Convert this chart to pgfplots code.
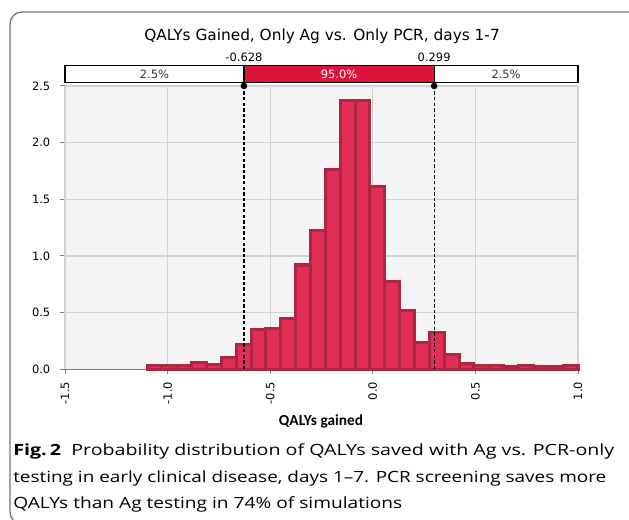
\documentclass[border=0pt]{standalone}
\usepackage{graphicx}
\usepackage{pgfplots}
\pgfplotsset{compat=1.18}
\usepackage{fontspec}
\setmainfont{DejaVu Sans}
\newfontfamily\capfont{Open Sans}
\newfontfamily\lblfont{Carlito}
\definecolor{barfill}{RGB}{225,46,86}
\definecolor{baredge}{RGB}{178,36,68}
\definecolor{crim}{RGB}{220,20,60}
\definecolor{bg}{RGB}{244,244,244}
\definecolor{gridc}{RGB}{210,210,210}
\definecolor{framec}{RGB}{120,120,120}
\begin{document}
\begin{tikzpicture}[x=0.75pt,y=0.75pt]
\useasboundingbox (0,0) rectangle (629,520);
\begin{scope}
\clip (0,0) rectangle (629,520);
\draw[framec, line width=1pt, rounded corners=9pt] (650,508) -- (10,508) -- (10,-4) -- (650,-4);
\end{scope}
\node[anchor=base, font=\fontsize{11.5}{14}\selectfont] at (322,479.3) {QALYs Gained, Only Ag vs. Only PCR, days 1-7};
\begin{axis}[
  at={(48.75pt,113.025pt)}, anchor=south west,
  scale only axis, width=384.75pt, height=212.5pt,
  xmin=-1.5, xmax=1.0, ymin=0, ymax=2.5,
  clip=false,
  axis background/.style={fill=bg},
  axis x line*=bottom, axis y line*=left,
  axis line style={-},
  x axis line style={gray, line width=0.9pt},
  y axis line style={gridc, line width=0.9pt},
  xtick={-1.5,-1.0,-0.5,0,0.5,1.0},
  ytick={0,0.5,1.0,1.5,2.0,2.5},
  grid=major,
  major grid style={gridc, line width=0.9pt},
  tick align=outside,
  major tick length=3.5pt,
  tick style={gray, line width=0.7pt},
  tick label style={font=\fontsize{8.6}{10}\selectfont},
  /pgf/number format/assume math mode=true,
  /pgf/number format/.cd, fixed, fixed zerofill, precision=1, /pgfplots/.cd,
  xticklabel style={rotate=90, anchor=east},
  xticklabel shift=2.5pt,
  yticklabel shift=4pt,
]
\addplot[ybar interval, fill=barfill, draw=baredge, line width=2.3pt] coordinates {
(-1.1000,0.03) (-1.0276,0.03) (-0.9552,0.03) (-0.8828,0.06) (-0.8104,0.045)
(-0.7380,0.10) (-0.6656,0.215) (-0.5932,0.35) (-0.5208,0.36) (-0.4484,0.445)
(-0.3760,0.92) (-0.3036,1.225) (-0.2312,1.765) (-0.1588,2.37) (-0.0864,2.37)
(-0.0140,1.61) (0.0584,0.775) (0.1308,0.52) (0.2032,0.24) (0.2756,0.325)
(0.3480,0.13) (0.4204,0.05) (0.4928,0.03) (0.5652,0.03) (0.6376,0.02)
(0.7100,0.03) (0.7824,0.02) (0.8548,0.02) (0.9272,0.03) (1.0,0.03)
};
\addplot[black, line width=0.9pt, dash pattern=on 2.6pt off 1.6pt, mark=*, mark indices={2}, mark size=2pt, mark options={solid}] coordinates {(-0.628,0) (-0.628,2.5)};
\addplot[black, line width=0.9pt, dash pattern=on 2.6pt off 1.6pt, mark=*, mark indices={2}, mark size=2pt, mark options={solid}] coordinates {(0.299,0) (0.299,2.5)};
\draw[black, line width=0.9pt, fill=white] (axis cs:-1.5,2.527) rectangle (axis cs:1.0,2.679);
\draw[black, line width=0.9pt, fill=crim] (axis cs:-0.628,2.527) rectangle (axis cs:0.299,2.679);
\node[font=\fontsize{8.6}{10}\selectfont, text=black!80] at (axis cs:-1.064,2.603) {2.5\%};
\node[font=\fontsize{8.6}{10}\selectfont, text=white] at (axis cs:-0.1645,2.603) {95.0\%};
\node[font=\fontsize{8.6}{10}\selectfont, text=black!80] at (axis cs:0.6495,2.603) {2.5\%};
\node[font=\fontsize{8.6}{10}\selectfont] at (axis cs:-0.628,2.75) {-0.628};
\node[font=\fontsize{8.6}{10}\selectfont] at (axis cs:0.299,2.75) {0.299};
\end{axis}
\node[font=\lblfont\bfseries\fontsize{11.5}{13}\selectfont] at (321,98.3) {QALYs gained};
\node[anchor=base west, inner sep=0pt, font=\capfont\fontsize{11.6}{14}\selectfont] at (13,64) {\resizebox{450.75pt}{\height}{\textbf{Fig.\,2}\ \ Probability distribution of QALYs saved with Ag vs. PCR-only}};
\node[anchor=base west, inner sep=0pt, font=\capfont\fontsize{11.6}{14}\selectfont] at (13,37.5) {\resizebox{444.75pt}{\height}{testing in early clinical disease, days 1–7. PCR screening saves more}};
\node[anchor=base west, inner sep=0pt, font=\capfont\fontsize{11.6}{14}\selectfont] at (13,11.5) {\resizebox{291.75pt}{\height}{QALYs than Ag testing in 74\% of simulations}};
\end{tikzpicture}
\end{document}
